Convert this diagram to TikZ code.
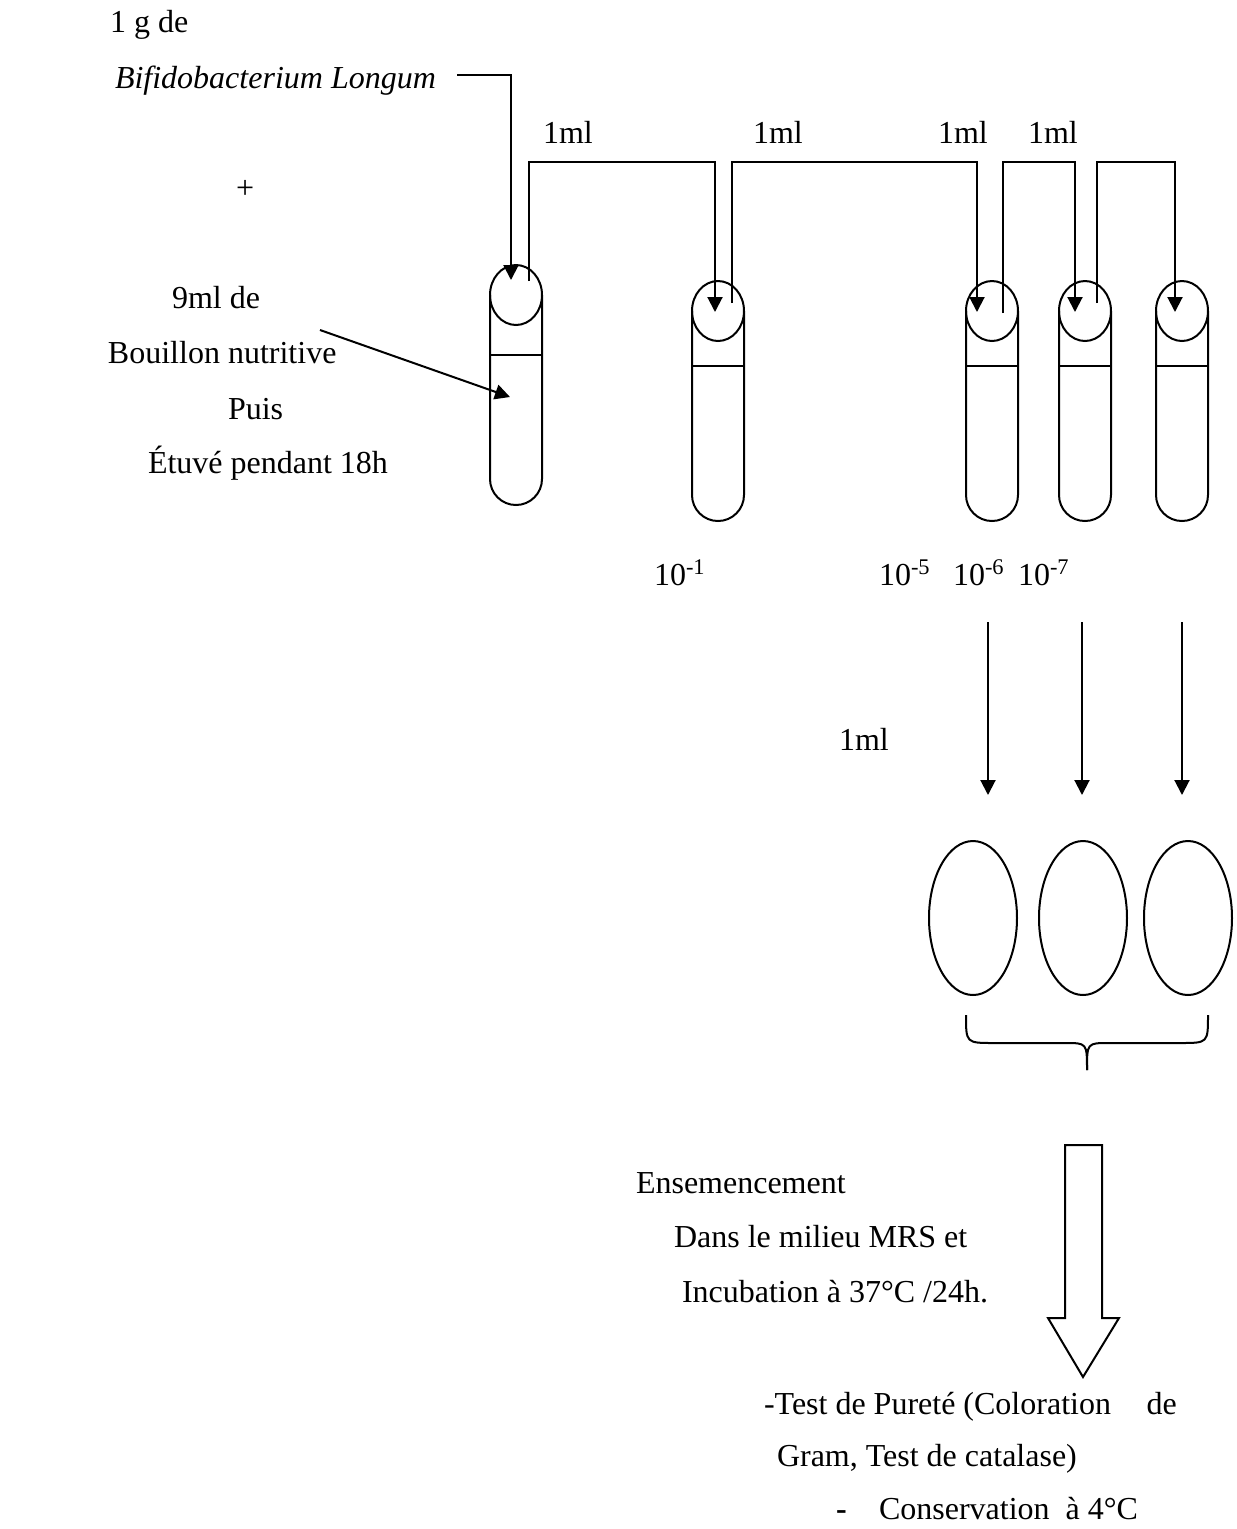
\documentclass[tikz,border=0pt]{standalone}
\usepackage{fontspec}
\setmainfont{Liberation Serif}
\usetikzlibrary{arrows.meta,calc}

\begin{document}
\begin{tikzpicture}[x=0.4pt,y=0.4pt,>={Triangle[width=6pt,length=6pt]},line width=0.8pt,
    font=\fontsize{12.8}{15}\selectfont,
    lbl/.style={inner sep=0pt,anchor=base west}]
    \useasboundingbox (0,0) rectangle (1237,-1529);
    % left texts
    \node[lbl] (gram) at (109,-32) {1 g de};
    \node[lbl,font=\fontsize{12.8}{15}\selectfont\itshape] (bifido) at (114,-88) {Bifidobacterium Longum};
    \node[lbl] (plus) at (235,-198) {+};
    \node[lbl] (nineml) at (171,-308) {9ml de};
    \node[lbl] (bouillon) at (107,-363) {Bouillon nutritive};
    \node[lbl] (puis) at (227,-419) {Puis};
    \node[lbl] (etuve) at (147,-473) {Étuvé pendant 18h};
    % tubes
    \foreach \n/\cx/\cy/\lq in {1/516/295/355,2/718/311/366,3/992/311/366,4/1085/311/366,5/1182/311/366}{
        \coordinate (tube\n) at (\cx,-\cy);
        \draw (tube\n) ellipse [x radius=26,y radius=30];
        \draw (\cx-26,-\cy) -- (\cx-26,-\cy-184) arc [start angle=180,end angle=360,radius=26] -- (\cx+26,-\cy);
        \draw (\cx-26,-\lq) -- (\cx+26,-\lq);
    }
    \coordinate (src) at (457,-75);
    \coordinate (broth) at (320,-330);
    \coordinate (top) at (0,-162);
    \coordinate (in1) at (511,-280);
    \coordinate (in2) at (715,-312);
    \coordinate (in3) at (977,-312);
    \coordinate (in4) at (1075,-312);
    \coordinate (in5) at (1175,-312);
    \coordinate (out1) at (529,-281);
    \coordinate (out2) at (732,-303);
    \coordinate (out3) at (1003,-313);
    \coordinate (out4) at (1097,-303);
    \draw[->] (src) -| (in1);
    \draw[->] (broth) -- (510,-397);
    \foreach \a/\b in {1/2,2/3,3/4,4/5}
        \draw[->] (out\a) |- (top -| in\b) -- (in\b);
    \foreach \n/\x in {1/542,2/752,3/937,4/1027}
        \node[lbl] (ml\n) at (\x,-143) {1ml};
    % dilutions
    \node[lbl] (d1) at (653,-585) {10\textsuperscript{-1}};
    \node[lbl] (d5) at (878,-585) {10\textsuperscript{-5}};
    \node[lbl] (d6) at (952,-585) {10\textsuperscript{-6}};
    \node[lbl] (d7) at (1017,-585) {10\textsuperscript{-7}};
    \node[lbl] (mlplate) at (838,-750) {1ml};
    % plates
    \foreach \n/\x/\px in {1/988/973,2/1082/1083,3/1182/1188}{
        \coordinate (plate\n) at (\px,-918);
        \draw (plate\n) ellipse [x radius=44,y radius=77];
        \draw[->] (\x,-622) -- (\x,-795);
    }
    \draw (966,-1015) .. controls (966,-1043) .. (994,-1043) -- (1065,-1043) .. controls (1087,-1043) .. (1087,-1070);
    \draw (1208,-1015) .. controls (1208,-1043) .. (1180,-1043) -- (1109,-1043) .. controls (1087,-1043) .. (1087,-1070);
    % big arrow
    \draw (1065,-1145) -- (1102,-1145) -- (1102,-1318) -- (1119,-1318) -- (1083,-1377)
        -- (1048,-1318) -- (1065,-1318) -- cycle;
    \node[lbl] (ensem) at (635,-1193) {Ensemencement};
    \node[lbl] (dans) at (673,-1247) {Dans le milieu MRS et};
    \node[lbl] (incub) at (681,-1302) {Incubation à 37°C /24h.};
    \node[lbl] (purete) at (763,-1414) {-Test de Pureté (Coloration\hspace{11pt} de};
    \node[lbl] (gramt) at (776,-1466) {Gram, Test de catalase)};
    \node[lbl,font=\fontsize{12.8}{15}\selectfont\bfseries] (dash) at (835,-1519) {-};
    \node[lbl] (conserv) at (878,-1519) {Conservation\ \ à 4°C};
\end{tikzpicture}
\end{document}
